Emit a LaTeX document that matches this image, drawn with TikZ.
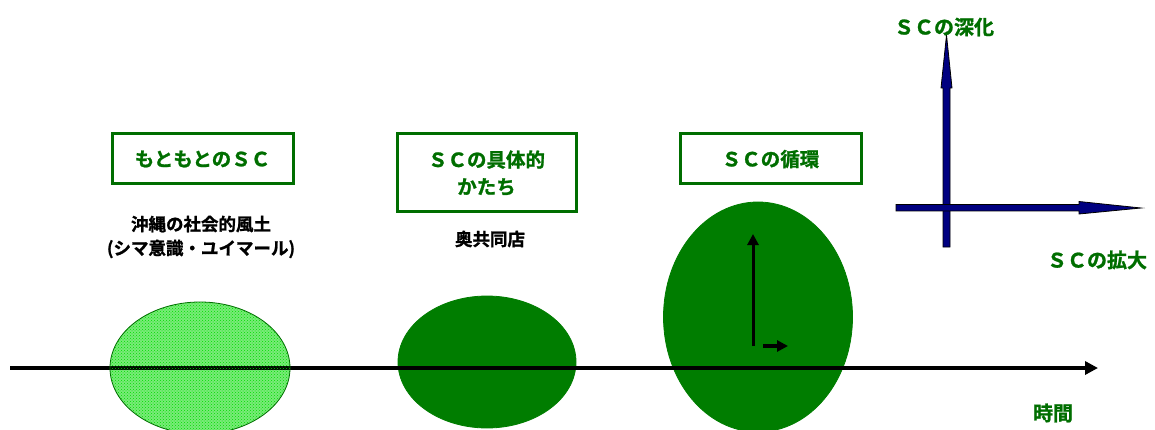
\documentclass[tikz,border=0pt]{standalone}
\usepackage{fontspec}
\setmainfont{Noto Sans CJK JP}[BoldFont={Noto Sans CJK JP Bold},BoldFeatures={FakeBold=1.2}]
\usetikzlibrary{shapes.geometric,arrows.meta,patterns}
\definecolor{dgreen}{RGB}{0,110,0}
\definecolor{fgreen}{RGB}{0,125,0}
\definecolor{lgreen}{RGB}{120,235,120}
\definecolor{pgreen}{RGB}{0,220,0}
\definecolor{navyb}{RGB}{0,0,128}
\tikzset{
  titlebox/.style={draw=dgreen,line width=3pt,minimum height=50pt,text=dgreen,font=\bfseries\fontsize{19.5pt}{27pt}\selectfont,align=center,inner sep=0pt},
  greenlabel/.style={text=dgreen,font=\bfseries\fontsize{20pt}{24pt}\selectfont,inner sep=0pt},
  blacklabel/.style={text=black,font=\bfseries\fontsize{17.5pt}{24pt}\selectfont,align=center,inner sep=0pt},
  blob/.style={ellipse,draw=fgreen,fill=fgreen,line width=0.8pt,inner sep=0pt},
  timeaxis/.style={line width=3.5pt,-{Triangle[length=13pt,width=13pt]}},
  smallarrow/.style={line width=3pt,-{Triangle[length=11pt,width=11pt]}},
  bluearrow/.style={fill=navyb,draw=black,line width=0.8pt,line join=miter}
}
\begin{document}
\begin{tikzpicture}[x=1pt,y=-1pt]
\useasboundingbox (0,0) rectangle (1155,430);
% ellipses
\node[ellipse,fill=lgreen,minimum width=180pt,minimum height=132pt,inner sep=0pt] (e1) at (200,368) {};
\node[blob,minimum width=178pt,minimum height=132pt] (e2) at (487,362) {};
\node[blob,minimum width=189pt,minimum height=230pt] (e3) at (758,317) {};
% time axis
\coordinate (t0) at (10,368);
\coordinate (t1) at (1098,368);
\draw[timeaxis] (t0) -- (t1);
% pattern overlay on first ellipse
\node[ellipse,pattern=crosshatch dots,pattern color=pgreen,draw=dgreen,line width=0.8pt,minimum width=180pt,minimum height=132pt,inner sep=0pt] (e1p) at (200,368) {};
% arrows in third ellipse
\coordinate (a0) at (753,346);
\coordinate (a1) at (753,234);
\coordinate (b0) at (763,346);
\coordinate (b1) at (788,346);
\draw[smallarrow] (a0) -- (a1);
\draw[smallarrow,line width=4pt] (b0) -- (b1);
% title boxes
\node[titlebox,minimum width=181pt] (bx1) at (202.5,159) {もともとのＳＣ};
\node[titlebox,minimum width=179pt,minimum height=78pt] (bx2) at (486.5,173) {ＳＣの具体的\\かたち};
\node[titlebox,minimum width=181pt] (bx3) at (770.5,159) {ＳＣの循環};
% black labels
\node[blacklabel] (l1) at (201,237) {沖縄の社会的風土\\(シマ意識・ユイマール)};
\node[blacklabel] (l2) at (490,239) {奥共同店};
% blue axes
\draw[bluearrow] (943,247) -- (943,88) -- (941,88) -- (946.5,35) -- (952,88) -- (950,88) -- (950,247) -- cycle;
\draw[bluearrow] (896,204.5) -- (1079,204.5) -- (1079,201.5) -- (1141,208) -- (1079,214) -- (1079,211) -- (896,211) -- cycle;
% axis labels
\node[greenlabel] (deep) at (944,27) {ＳＣの深化};
\node[greenlabel] (wide) at (1097,260) {ＳＣの拡大};
\node[greenlabel] (time) at (1053,413) {時間};
\end{tikzpicture}
\end{document}
